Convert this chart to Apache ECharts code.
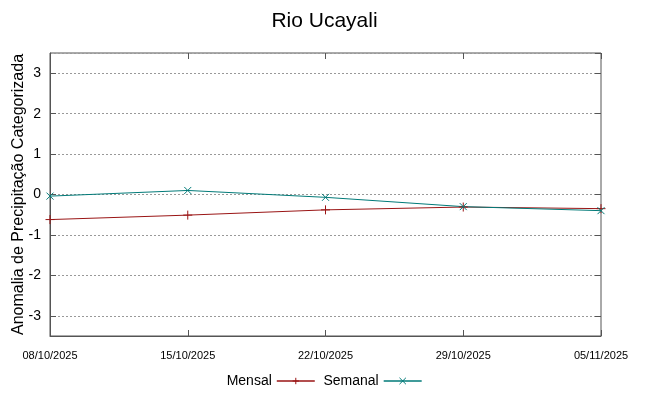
<!DOCTYPE html>
<html><head><meta charset="utf-8">
<script src="https://cdn.jsdelivr.net/npm/echarts@6/dist/echarts.min.js"></script>
<style>html,body{margin:0;padding:0;background:#fff}#c{width:649px;height:396px}</style>
</head><body><div id="c"></div>
<script>
const categories = ['08/10/2025','15/10/2025','22/10/2025','29/10/2025','05/11/2025'];
const mensal = [-0.62, -0.51, -0.38, -0.31, -0.35];
const semanal = [-0.04, 0.10, -0.07, -0.30, -0.40];
const titleText = 'Rio Ucayali';
const yName = 'Anomalia de Precipitação Categorizada';

const red = '#9a1515';
const teal = '#007a78';
const plus = 'path://M0,5L10,5M5,0L5,10';
const cross = 'path://M0,0L10,10M10,0L0,10';
const font = "'Liberation Sans', Arial, sans-serif";
const narrow = "'Liberation Sans Narrow', 'Liberation Sans', Arial, sans-serif";

const chart = echarts.init(document.getElementById('c'), null, {renderer:'canvas'});
chart.setOption({
  animation: false,
  title: {text: titleText, left: 'center', top: 6, textStyle: {fontFamily: font, fontSize: 21, fontWeight: 'normal', color: '#000'}},
  grid: {left: 50, right: 48, top: 53, bottom: 60, show: true, borderColor: '#555', borderWidth: 1, containLabel: false, outerBoundsMode: 'none'},
  legend: {
    bottom: 3, left: 'center', align: 'right', itemWidth: 38, itemHeight: 8, itemGap: 8,
    textStyle: {fontFamily: narrow, fontSize: 14, color: '#000'},
    data: [
      {name: 'Mensal', lineStyle: {color: red, width: 1.3}, itemStyle: {color: red, borderColor: red, borderWidth: 1}},
      {name: 'Semanal', lineStyle: {color: teal, width: 1.3}, itemStyle: {color: teal, borderColor: teal, borderWidth: 1}}
    ]
  },
  xAxis: [{
    type: 'category', data: categories, boundaryGap: false,
    axisLine: {show: true, onZero: false, lineStyle: {color: '#555'}},
    axisTick: {show: true, inside: true, length: 6, lineStyle: {color: '#555'}},
    axisLabel: {fontFamily: narrow, fontSize: 11, color: '#000', margin: 14, showMinLabel: true, showMaxLabel: true, interval: 0},
    splitLine: {show: false}
  }, {
    type: 'category', data: categories, boundaryGap: false, position: 'top',
    axisLine: {show: false, onZero: false}, axisTick: {show: true, inside: true, length: 6, lineStyle: {color: '#555'}},
    axisLabel: {show: false}, splitLine: {show: false}
  }],
  yAxis: [{
    type: 'value', min: -3.5, max: 3.5, splitNumber: 7,
    name: yName, nameLocation: 'middle', nameGap: 23, nameRotate: 90, nameMoveOverlap: false,
    nameTextStyle: {fontFamily: font, fontSize: 16, color: '#000'},
    axisLine: {show: true, onZero: false, lineStyle: {color: '#555'}},
    axisTick: {show: true, inside: true, length: 6, lineStyle: {color: '#555'}},
    axisLabel: {fontFamily: font, fontSize: 14, color: '#000', margin: 9, showMinLabel: false, showMaxLabel: false},
    splitLine: {show: true, lineStyle: {color: '#999', type: [2, 2], width: 1}}
  }, {
    type: 'value', min: -3.5, max: 3.5, splitNumber: 7, position: 'right',
    axisLine: {show: false, onZero: false},
    axisTick: {show: true, inside: true, length: 6, lineStyle: {color: '#555'}},
    axisLabel: {show: false}, splitLine: {show: false}
  }],
  series: [{
    name: 'Mensal', type: 'line', data: mensal,
    symbol: plus, symbolSize: 9, showAllSymbol: true,
    lineStyle: {color: red, width: 1},
    itemStyle: {color: red, borderColor: red, borderWidth: 1}
  }, {
    name: 'Semanal', type: 'line', data: semanal,
    symbol: cross, symbolSize: 7, showAllSymbol: true,
    lineStyle: {color: teal, width: 1},
    itemStyle: {color: teal, borderColor: teal, borderWidth: 1}
  }]
});
</script></body></html>
